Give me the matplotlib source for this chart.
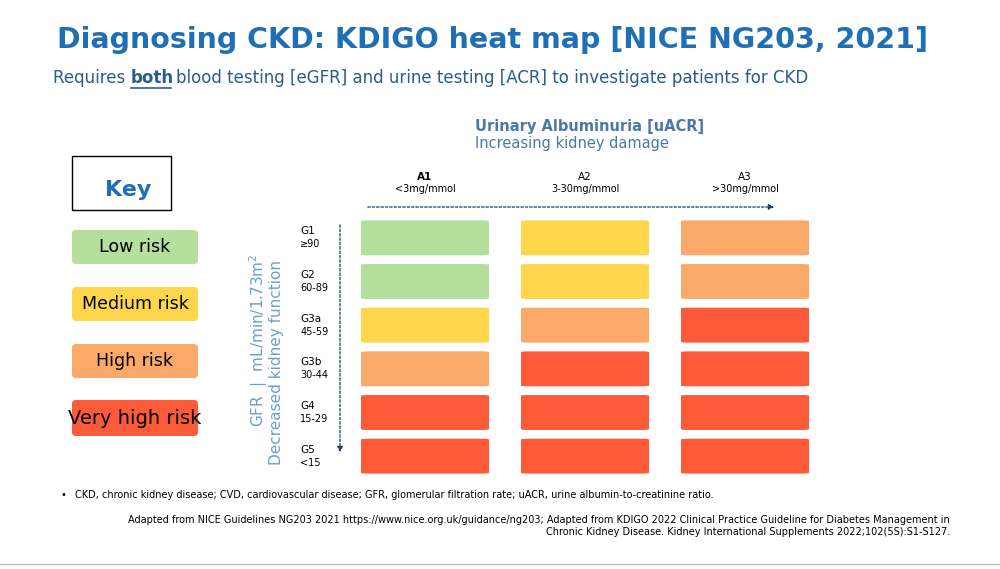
import matplotlib
matplotlib.use("Agg")
import matplotlib.pyplot as plt
from matplotlib.patches import FancyBboxPatch, Rectangle

cols = ["A1", "A2", "A3"]
col_sub = ["<3mg/mmol", "3-30mg/mmol", ">30mg/mmol"]
rows = ["G1", "G2", "G3a", "G3b", "G4", "G5"]
row_sub = ["≥90", "60-89", "45-59", "30-44", "15-29", "<15"]
risk = [[0, 1, 2],
        [0, 1, 2],
        [1, 2, 3],
        [2, 3, 3],
        [3, 3, 3],
        [3, 3, 3]]
risk_labels = ["Low risk", "Medium risk", "High risk", "Very high risk"]
colors = ["#B6DE9C", "#FDD64C", "#FBA96B", "#FC5A38"]

W, H = 1000, 569
fig = plt.figure(figsize=(10, 5.69), dpi=100)
bg = fig.add_axes([0, 0, 1, 1])
bg.set_xlim(0, W); bg.set_ylim(H, 0); bg.axis("off")

blue = "#1F6FB5"
bg.text(57, 40, "Diagnosing CKD: KDIGO heat map [NICE NG203, 2021]", fontsize=20.5,
        fontweight="bold", color=blue, va="center")
bg.text(53, 78, "Requires ", fontsize=12, color="#2A5C8E", va="center")
t = bg.text(131, 78, "both", fontsize=12, color="#2A5C8E", va="center", fontweight="bold")
bg.plot([131, 171], [88, 88], color="#2A5C8E", lw=1.2)
bg.text(176, 78, "blood testing [eGFR] and urine testing [ACR] to investigate patients for CKD",
        fontsize=12, color="#2A5C8E", va="center")

bg.text(475, 126, "Urinary Albuminuria [uACR]", fontsize=10.5, fontweight="bold", color="#4A78A8", va="center")
bg.text(475, 143, "Increasing kidney damage", fontsize=10.5, color="#4A78A8", va="center")

# Key
bg.add_patch(Rectangle((72, 156), 99, 54, fill=False, ec="black", lw=1))
bg.text(128, 190, "Key", fontsize=16, fontweight="bold", color=blue, ha="center", va="center")
key_y = [230, 287, 344, 400]
for i, lab in enumerate(risk_labels):
    hgt = 36 if i == 3 else 34
    bg.add_patch(FancyBboxPatch((72, key_y[i]), 126, hgt, boxstyle="round,pad=0,rounding_size=4",
                                fc=colors[i], ec="none"))
    bg.text(135, key_y[i] + hgt / 2, lab, fontsize=14 if i == 3 else 12.5, ha="center", va="center",
            color="black")

# heatmap axes
left, top, w, h = 345, 216, 480, 262
ax = fig.add_axes([left / W, 1 - (top + h) / H, w / W, h / H])
ax.set_xlim(0, 3); ax.set_ylim(6, 0); ax.axis("off")
for r in range(6):
    for c in range(3):
        ax.add_patch(FancyBboxPatch((c + 0.1, r + 0.1), 0.8, 0.8,
                                    boxstyle="round,pad=0,rounding_size=0.05",
                                    mutation_aspect=1/3.2,
                                    fc=colors[risk[r][c]], ec="none"))
for c in range(3):
    ax.text(c + 0.5, -0.9, cols[c], ha="center", va="center", fontsize=7.5,
            fontweight="bold" if c == 0 else "normal", clip_on=False)
    ax.text(c + 0.5, -0.62, col_sub[c], ha="center", va="center", fontsize=7, clip_on=False)
for r in range(6):
    ax.text(-0.28, r + 0.35, rows[r], ha="left", va="center", fontsize=7.5, clip_on=False)
    ax.text(-0.28, r + 0.65, row_sub[r], ha="left", va="center", fontsize=7, clip_on=False)

bg.annotate("", xy=(777, 207), xytext=(365, 207),
            arrowprops=dict(arrowstyle="-|>", color="#1F3864", lw=0.9, ls=(0, (2, 1.5)), mutation_scale=8))
bg.annotate("", xy=(340, 455), xytext=(340, 222),
            arrowprops=dict(arrowstyle="-|>", color="#1F3864", lw=0.9, ls=(0, (2, 1.5)), mutation_scale=8))

bg.text(259, 340, "GFR  |  mL/min/1.73m$^2$", rotation=90, fontsize=11, color="#6A9FD0",
        ha="center", va="center")
bg.text(277, 362, "Decreased kidney function", rotation=90, fontsize=11, color="#6A9FD0",
        ha="center", va="center")

bg.text(60, 495, "•", fontsize=7, va="center")
bg.text(75, 495, "CKD, chronic kidney disease; CVD, cardiovascular disease; GFR, glomerular filtration rate; uACR, urine albumin-to-creatinine ratio.",
        fontsize=7, va="center")
bg.text(950, 520, "Adapted from NICE Guidelines NG203 2021 https://www.nice.org.uk/guidance/ng203; Adapted from KDIGO 2022 Clinical Practice Guideline for Diabetes Management in",
        fontsize=7, va="center", ha="right")
bg.text(950, 532, "Chronic Kidney Disease. Kidney International Supplements 2022;102(5S):S1-S127.",
        fontsize=7, va="center", ha="right")
bg.plot([0, 1000], [564, 564], color="#BBBBBB", lw=1)

fig.savefig("out.png", dpi=100)
